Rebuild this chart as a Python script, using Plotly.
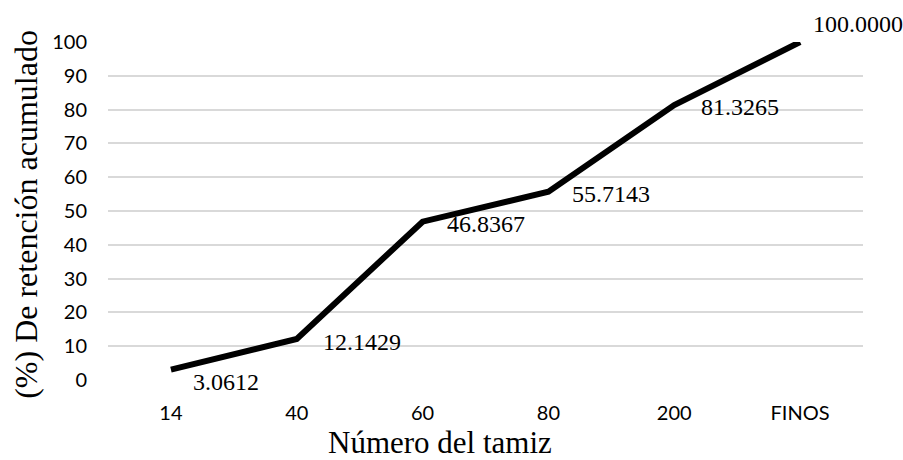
import plotly.graph_objects as go

categories = ["14", "40", "60", "80", "200", "FINOS"]
retention = [3.0612, 12.1429, 46.8367, 55.7143, 81.3265, 100.0]
label_text = ["3.0612", "12.1429", "46.8367", "55.7143", "81.3265", "100.0000"]
y_ticks = [0, 10, 20, 30, 40, 50, 60, 70, 80, 90, 100]

# label offsets in pixels (style only)
label_dx = [20, 24, 22, 22, 25, 11]
label_dy = [-12, -3, -2, -2, -2, 18]

x_idx = list(range(len(categories)))

fig = go.Figure()
fig.add_trace(go.Scatter(
    x=x_idx, y=retention, mode="lines",
    line=dict(color="black", width=6),
    hoverinfo="skip", showlegend=False,
))

serif = "Liberation Serif"
for i, (v, t) in enumerate(zip(retention, label_text)):
    fig.add_annotation(
        x=i, y=v, xref="x", yref="y", text=t, showarrow=False,
        xanchor="left", yanchor="middle",
        xshift=label_dx[i], yshift=label_dy[i],
        font=dict(family=serif, size=24, color="#000000"),
    )

fig.add_annotation(
    x=0.44, y=-0.185, xref="paper", yref="paper", text="Número del tamiz",
    showarrow=False, xanchor="center", yanchor="middle",
    font=dict(family=serif, size=31, color="#000000"),
)
fig.add_annotation(
    x=-0.108, y=0.49, xref="paper", yref="paper", text="(%) De retención acumulado",
    showarrow=False, xanchor="center", yanchor="middle", textangle=-90,
    font=dict(family=serif, size=32, color="#000000"),
)

fig.update_layout(
    width=903, height=460, autosize=False,
    margin=dict(l=108, r=40, t=42, b=80, pad=0),
    paper_bgcolor="white", plot_bgcolor="white",
    showlegend=False,
)
fig.update_xaxes(
    range=[-0.5, len(categories) - 0.5],
    tickmode="array", tickvals=x_idx, ticktext=categories,
    showgrid=False, zeroline=False, showline=False,
    ticks="", ticklabelstandoff=19,
    tickfont=dict(family="Lato", size=20, color="#000000"),
)
fig.update_yaxes(
    range=[0, 100], tickmode="array", tickvals=y_ticks,
    showgrid=True, gridcolor="#d9d9d9", gridwidth=1.5,
    zeroline=False, showline=False, ticks="", ticklabelstandoff=20,
    tickfont=dict(family="Lato", size=20, color="#000000"),
)

fig.write_html("out.html")
